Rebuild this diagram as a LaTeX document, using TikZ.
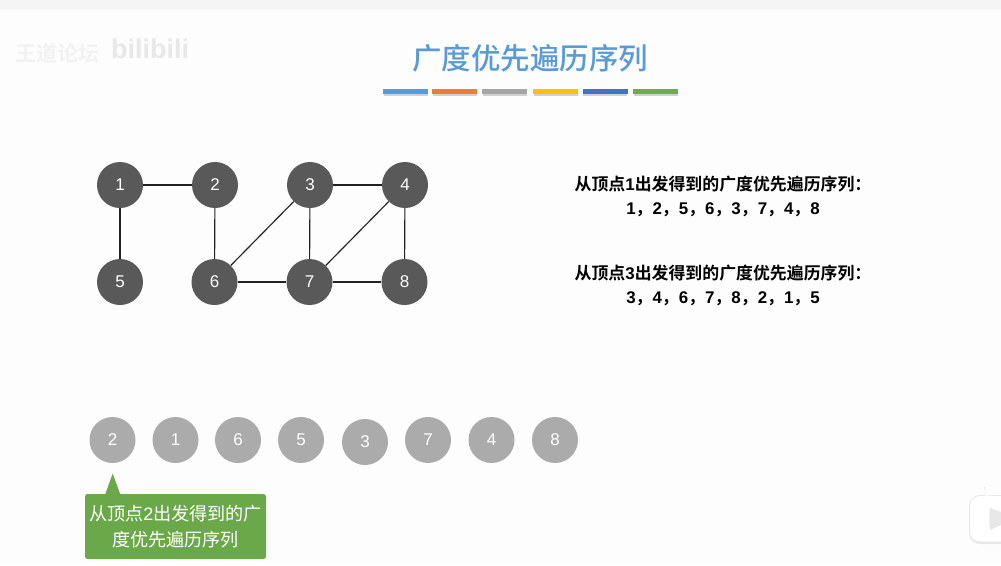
\documentclass[tikz,border=0pt]{standalone}
\usepackage{fontspec}
\setmainfont{Liberation Sans}
\newfontfamily\cjk[BoldFont=Noto Sans CJK SC Bold]{Noto Sans CJK SC}
\newfontfamily\cjkmed{Noto Sans CJK SC Medium}
\usetikzlibrary{shapes.geometric}
\definecolor{pagebg}{HTML}{FDFDFE}
\definecolor{stripbg}{HTML}{F5F5F6}
\definecolor{titleblue}{HTML}{5B9BD5}
\definecolor{darknode}{HTML}{595959}
\definecolor{lightnode}{HTML}{ABABAB}
\definecolor{calloutgreen}{HTML}{6BA84A}
\definecolor{edgecol}{HTML}{222222}
\tikzset{
  vertex/.style={circle,fill=darknode,minimum size=46pt,inner sep=0pt,text=white,font=\fontsize{17}{17}\selectfont},
  seqnode/.style={circle,fill=lightnode,minimum size=46pt,inner sep=0pt,text=white,font=\fontsize{17}{17}\selectfont},
  edge/.style={draw=edgecol,line width=1.15pt},
  infotext/.style={align=center,text=black,font=\fontsize{16.9}{24}\selectfont\bfseries,inner sep=0pt},
  bar/.style={minimum width=45pt,minimum height=5pt,inner sep=0pt},
  barshadow/.style={fill=black!18},
}
\newcommand{\cm}[1]{{\cjk #1}}
\newcommand{\seqsep}{\cm{，}}
\begin{document}
\begin{tikzpicture}[x=1pt,y=-1pt]
\useasboundingbox (0,0) rectangle (1001,565);
\fill[pagebg] (0,0) rectangle (1001,565);
\fill[stripbg] (0,0) rectangle (1001,9);

% faint watermark
\node[text=black!5,font=\fontsize{21}{21}\selectfont\cjk\bfseries,inner sep=0pt] (wm1) at (58,53) {王道论坛};
\node[text=black!9,font=\fontsize{27}{27}\selectfont\bfseries,inner sep=0pt] (wm2) at (150,49) {bilibili};

% title
\node[text=titleblue,font=\fontsize{29.5}{30}\selectfont\cjkmed,inner sep=0pt] (title) at (530,58) {广度优先遍历序列};
\foreach \nm/\xx/\cc in {b1/405.5/5B9BD5,b2/454.5/ED7D31,b3/504.5/A5A5A5,b4/555.5/FFC000,b5/605/4472C4,b6/655.5/70AD47}{
  \fill[barshadow] (\xx-22,91) rectangle (\xx+22,96);
  \definecolor{barcol}{HTML}{\cc}
  \node[bar,fill=barcol] (\nm) at (\xx,91.5) {};
}

% graph
\node[vertex] (n1) at (120,185) {1};
\node[vertex] (n2) at (215,185) {2};
\node[vertex] (n3) at (310,185) {3};
\node[vertex] (n4) at (405,185) {4};
\node[vertex] (n5) at (120,282) {5};
\node[vertex] (n6) at (214.5,282) {6};
\node[vertex] (n7) at (309.5,282) {7};
\node[vertex] (n8) at (404.5,282) {8};
\foreach \a/\b in {n1/n2,n1/n5,n2/n6,n3/n4,n3/n7,n3/n6,n4/n7,n4/n8,n6/n7,n7/n8}
  \draw[edge] (\a) -- (\b);

% info text
\node[infotext] (t1) at (723,196) {\cm{从顶点}1\cm{出发得到的广度优先遍历序列：}\\
 1\seqsep2\seqsep5\seqsep6\seqsep3\seqsep7\seqsep4\seqsep8};
\node[infotext] (t2) at (723,285) {\cm{从顶点}3\cm{出发得到的广度优先遍历序列：}\\
 3\seqsep4\seqsep6\seqsep7\seqsep8\seqsep2\seqsep1\seqsep5};

% sequence
\node[seqnode] (s2) at (112.5,440) {2};
\node[seqnode] (s1) at (175.5,440) {1};
\node[seqnode] (s6) at (238,440) {6};
\node[seqnode] (s5) at (301,440) {5};
\node[seqnode] (s3) at (365,442) {3};
\node[seqnode] (s7) at (428,440) {7};
\node[seqnode] (s4) at (491.5,440) {4};
\node[seqnode] (s8) at (555,440) {8};

% callout
\fill[calloutgreen] (105,495) -- (112.7,473.5) -- (120.5,495) -- cycle;
\node[fill=calloutgreen,rounded corners=2.5pt,minimum width=181pt,minimum height=65pt,inner sep=0pt,
  text=white,align=center,font=\fontsize{18.1}{26}\selectfont] (call) at (175.5,526.5)
  {\cm{从顶点}2\cm{出发得到的广}\\\cm{度优先遍历序列}};

% play badge
\begin{scope}
\draw[black!8,line width=2pt,line cap=round] (986.5,496) -- (985,487.5);
\fill[black!9] (969,510) .. controls (969,499) and (973,495) .. (982,495) -- (1001,495) -- (1001,544) -- (982,544) .. controls (973,544) and (969,540) .. (969,530) -- cycle;
\fill[white] (970,510) .. controls (970,500) and (973,496) .. (982,496) -- (1001,496) -- (1001,541.5) -- (982,541.5) .. controls (973,541.5) and (970,538) .. (970,530) -- cycle;
\draw[white,line width=1.6pt,line cap=round] (987,497) -- (985.5,488);
\fill[black!9] (990,508) -- (1001,512) -- (1001,525) -- (990,530) .. controls (989,522) and (989,516) .. (990,508) -- cycle;
\end{scope}
\end{tikzpicture}
\end{document}
